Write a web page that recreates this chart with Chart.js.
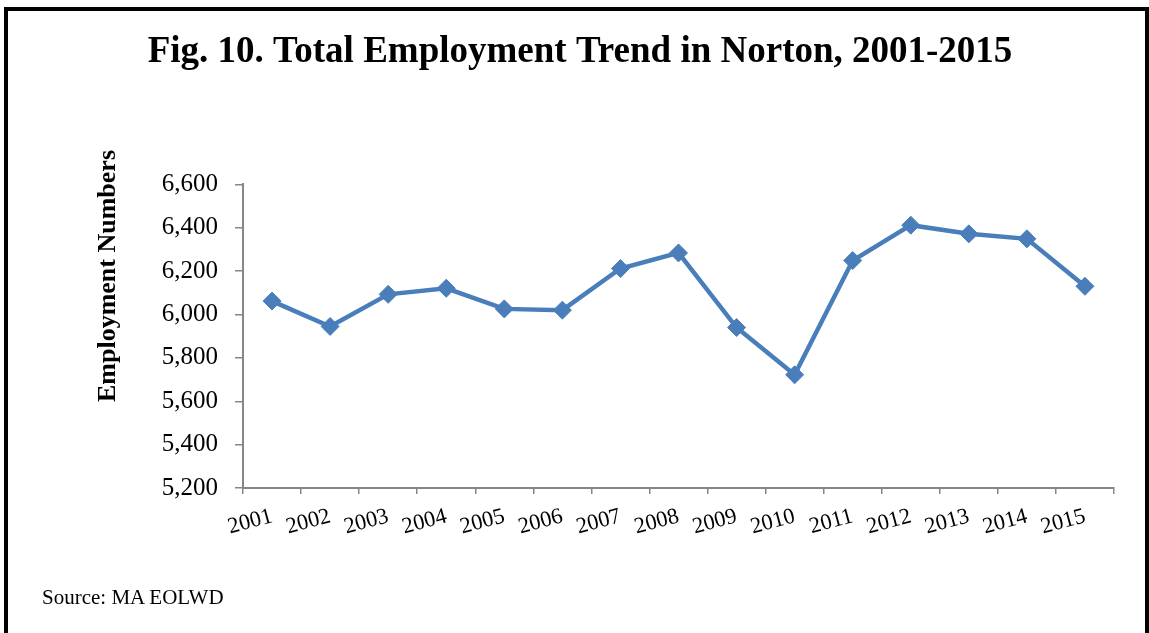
<!DOCTYPE html>
<html>
<head>
<meta charset="utf-8">
<script src="https://cdn.jsdelivr.net/npm/chart.js@4"></script>
<style>
  html, body { margin: 0; padding: 0; background: #fff; overflow: hidden; }
  #wrap { position: relative; width: 1149px; height: 633px; }
  #frame {
    position: absolute; left: 4px; top: 7px; width: 1137px; height: 640px;
    border: 4px solid #000; box-sizing: content-box; pointer-events: none;
  }
  #chart { position: absolute; left: 0; top: 0; }
  .serif { font-family: "Liberation Serif", "Times New Roman", serif; color: #000; }
  #ytitle {
    position: absolute; left: 107px; top: 276px; font-size: 26px; font-weight: bold;
    line-height: 1; white-space: nowrap; transform: translate(-50%, -50%) rotate(-90deg);
  }
  #source { position: absolute; left: 42px; top: 585px; font-size: 21px; line-height: 1.2; }
</style>
</head>
<body>
<div id="wrap">
  <canvas id="chart" width="1149" height="633"></canvas>
  <div id="frame"></div>
  <div id="ytitle" class="serif">Employment Numbers</div>
  <div id="source" class="serif">Source: MA EOLWD</div>
</div>
<script>
const years = ['2001', '2002', '2003', '2004', '2005', '2006', '2007', '2008',
               '2009', '2010', '2011', '2012', '2013', '2014', '2015'];
const employment = [6062, 5945, 6093, 6121, 6026, 6020, 6212, 6284,
                    5940, 5722, 6249, 6412, 6372, 6349, 6130];
const yMin = 5200;
const yMax = 6600;
const yStep = 200;

const serif = '"Liberation Serif", "Times New Roman", serif';
const blue = '#4A7EBB';
const axisGrey = '#868686';

new Chart(document.getElementById('chart'), {
    type: 'line',
    data: {
        labels: years,
        datasets: [{
            data: employment,
            borderColor: blue,
            backgroundColor: blue,
            borderWidth: 4.5,
            pointStyle: 'rectRot',
            pointRadius: 9,
            pointBorderWidth: 1,
            pointBackgroundColor: blue,
            pointBorderColor: blue,
            tension: 0
        }]
    },
    options: {
        responsive: false,
        animation: false,
        // left padding keeps the title centred over the frame, y width makes up the rest
        layout: { padding: { left: 46, right: 35, top: 0, bottom: 65 } },
        plugins: {
            legend: { display: false },
            tooltip: { enabled: false },
            title: {
                display: true,
                text: 'Fig. 10. Total Employment Trend in Norton, 2001-2015',
                color: '#000',
                font: { family: serif, size: 37, weight: 'bold', lineHeight: 1.2 },
                padding: { top: 30, bottom: 110 }
            }
        },
        scales: {
            x: {
                type: 'category',
                offset: true,
                grid: { offset: true, drawOnChartArea: false, drawTicks: true, tickLength: 6, color: axisGrey, lineWidth: 1.5 },
                border: { color: axisGrey, width: 2 },
                ticks: {
                    autoSkip: false, minRotation: 15, maxRotation: 15, padding: 9,
                    color: '#000', font: { family: serif, size: 22.5 }
                },
                afterFit: s => { s.height = 80; }
            },
            y: {
                min: yMin,
                max: yMax,
                grid: { drawOnChartArea: false, drawTicks: true, tickLength: 8, color: axisGrey, lineWidth: 1.5 },
                border: { color: axisGrey, width: 2 },
                ticks: {
                    stepSize: yStep, padding: 17, color: '#000',
                    font: { family: serif, size: 25 },
                    callback: v => v.toLocaleString('en-US')
                },
                afterFit: s => { s.width = 197; }
            }
        }
    }
});
</script>
</body>
</html>
